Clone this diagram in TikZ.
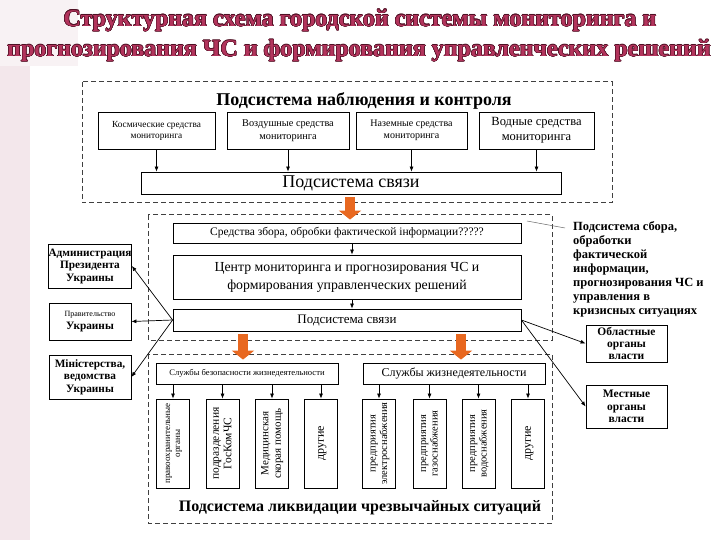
\documentclass[tikz,border=0pt]{standalone}
\usepackage{fontspec}
\setmainfont{Liberation Serif}
\usepackage{graphicx}
\usepackage{contour}
\usepackage{pgf, tikz}
\usetikzlibrary{arrows.meta}
\pgfdeclarelayer{edgelayer}
\pgfdeclarelayer{nodelayer}
\pgfsetlayers{edgelayer,nodelayer,main}
\definecolor{titlered}{RGB}{178,52,92}
\definecolor{titledark}{RGB}{80,16,36}
\definecolor{orangearr}{RGB}{232,104,32}
\definecolor{sidepink}{RGB}{243,231,235}
\contourlength{0.5pt}
\tikzstyle{box}=[draw=black, fill=white, line width=0.8pt, inner sep=1pt, align=center]
\tikzstyle{vbox}=[box, minimum width=33, minimum height=89]
\tikzstyle{sidebox}=[box, minimum width=82, inner sep=0pt, font=\bfseries\fontsize{11.3}{12.5}\selectfont]
\tikzstyle{frame}=[draw=black!75, line width=1pt, dash pattern=on 5pt off 3pt]
\tikzstyle{edge}=[draw=black, line width=0.7pt, -{Latex[length=5pt,width=4pt]}]
\tikzstyle{bigarrow}=[draw=orangearr, line width=10pt, -{Triangle[length=9pt,width=22pt]}, shorten <=3pt, shorten >=3pt]
\tikzstyle{titletext}=[text=titlered, font=\bfseries\fontsize{24}{28}\selectfont, inner sep=0pt]
\newcommand{\vtext}[1]{\rotatebox{90}{\begin{tabular}{@{}c@{}}#1\end{tabular}}}

\begin{document}
\begin{tikzpicture}[x=1pt, y=-1pt]
	\useasboundingbox (0, 0) rectangle (720, 540);
	\begin{pgfonlayer}{nodelayer}
		% title
		\node [style=titletext] (0) at (360, 21) {\contour{titledark}{Структурная схема городской системы мониторинга и}};
		\node [style=titletext] (1) at (359, 51) {\contour{titledark}{прогнозирования ЧС и формирования управленческих решений}};
		% observation subsystem
		\node [font=\bfseries\fontsize{18}{20}\selectfont] (2) at (364, 101) {Подсистема наблюдения и контроля};
		\node [style=box, minimum width=117, minimum height=37, font=\fontsize{9.3}{11}\selectfont] (3) at (156.5, 130.5) {Космические средства\\мониторинга};
		\node [style=box, minimum width=122, minimum height=37, font=\fontsize{10.3}{12.5}\selectfont] (4) at (288, 130.5) {Воздушные средства\\мониторинга};
		\node [style=box, minimum width=111, minimum height=37, font=\fontsize{10}{12}\selectfont] (5) at (411.5, 130.5) {Наземные средства\\мониторинга};
		\node [style=box, minimum width=115, minimum height=37, font=\fontsize{12.5}{15}\selectfont] (6) at (536.5, 130.5) {Водные средства\\мониторинга};
		\node [style=box, minimum width=420, minimum height=22, font=\fontsize{18}{20}\selectfont] (7) at (351, 183) {Подсистема связи};
		% collection subsystem
		\node [style=box, minimum width=348, minimum height=20, font=\fontsize{11.5}{13}\selectfont] (8) at (347, 233) {Средства збора, обробки фактической інформации?????};
		\node [style=box, minimum width=348, minimum height=44, font=\fontsize{13.8}{18}\selectfont] (9) at (347, 277) {Центр мониторинга и прогнозирования ЧС и\\формирования управленческих решений};
		\node [style=box, minimum width=348, minimum height=22, font=\fontsize{13}{15}\selectfont] (10) at (347, 320) {Подсистема связи};
		\node [style=sidebox, minimum height=44] (11) at (90, 266) {Администрация\\Президента\\Украины};
		\node [style=sidebox, minimum height=37] (12) at (90, 321.5) {{\mdseries\fontsize{8}{10}\selectfont Правительство}\\Украины};
		\node [style=sidebox, minimum height=44] (13) at (90, 377) {Міністерства,\\ведомства\\Украины};
		\node [style=sidebox, minimum width=81, minimum height=37, font=\bfseries\fontsize{11.5}{12}\selectfont] (14) at (626.5, 343.5) {Областные\\органы\\власти};
		\node [style=sidebox, minimum width=81, minimum height=43, font=\bfseries\fontsize{11.5}{12.5}\selectfont] (15) at (626.5, 406.5) {Местные\\органы\\власти};
		\node [anchor=north west, align=left, inner sep=0pt, font=\bfseries\fontsize{12.5}{14}\selectfont] (16) at (573, 221) {Подсистема сбора,\\обработки\\фактической\\информации,\\прогнозирования ЧС и\\управления в\\кризисных ситуациях};
		\coordinate (17) at (527, 221);
		% liquidation subsystem
		\node [style=box, minimum width=182, minimum height=21, font=\fontsize{8.6}{10}\selectfont] (18) at (247, 373.5) {Службы безопасности жизнедеятельности};
		\node [style=box, minimum width=182, minimum height=21, font=\fontsize{12}{13}\selectfont] (19) at (454, 373.5) {Службы жизнедеятельности};
		\node [style=vbox, font=\fontsize{9}{10}\selectfont] (20) at (173, 443.5) {\vtext{правоохранительные\\органы}};
		\node [style=vbox, font=\fontsize{11.5}{12.5}\selectfont] (21) at (222.5, 443.5) {\vtext{подразделения\\ГосКомЧС}};
		\node [style=vbox, font=\fontsize{11}{12.5}\selectfont] (22) at (272, 443.5) {\vtext{Медицинская\\скорая помощь}};
		\node [style=vbox, font=\fontsize{12}{14}\selectfont] (23) at (321, 443.5) {\vtext{другие}};
		\node [style=vbox, font=\fontsize{10.5}{11.5}\selectfont] (24) at (379, 443.5) {\vtext{предприятия\\электроснабжения}};
		\node [style=vbox, font=\fontsize{10.5}{11.5}\selectfont] (25) at (429.5, 443.5) {\vtext{предприятия\\газоснабжения}};
		\node [style=vbox, font=\fontsize{10.5}{11.5}\selectfont] (26) at (478.5, 443.5) {\vtext{предприятия\\водоснабжения}};
		\node [style=vbox, font=\fontsize{12}{14}\selectfont] (27) at (528, 443.5) {\vtext{другие}};
		\node [font=\bfseries\fontsize{16}{19}\selectfont] (28) at (360, 508) {Подсистема ликвидации чрезвычайных ситуаций};
	\end{pgfonlayer}
	\begin{pgfonlayer}{edgelayer}
		% background and frames
		\fill [sidepink] (0, 0) rectangle (30, 540);
		\fill [sidepink!55] (0, 0) rectangle (78, 66);
		\draw [style=frame] (82, 82) rectangle (612, 203);
		\draw [style=frame] (148, 215) rectangle (552, 340);
		\draw [style=frame] (148, 354) rectangle (552, 523);
		\draw [style=edge] (3) to (3 |- 7.north);
		\draw [style=edge] (4) to (4 |- 7.north);
		\draw [style=edge] (5) to (5 |- 7.north);
		\draw [style=edge] (6) to (6 |- 7.north);
		\draw [style=bigarrow] (7.south -| 350, 0) to (8.north -| 350, 0);
		\draw [style=edge] (8.south -| 352, 0) to (9.north -| 352, 0);
		\draw [style=edge] (9.south -| 352, 0) to (10.north -| 352, 0);
		\draw [style=edge] (10.west) to (11.east);
		\draw [style=edge] (10.west) to (12.east);
		\draw [style=edge] (10.west) to (13.east);
		\draw [style=edge] (10.east) to (14.west);
		\draw [style=edge] (10.east) to (15.west);
		\draw [draw=black!60, line width=0.5pt] (17) to ([shift={(-8, 7)}]16.north west);
		\draw [style=bigarrow] (10.south -| 243, 0) to (18.north -| 243, 0);
		\draw [style=bigarrow] (10.south -| 461, 0) to (19.north -| 461, 0);
		\draw [style=edge] (18.south -| 20) to (20);
		\draw [style=edge] (18.south -| 21) to (21);
		\draw [style=edge] (18.south -| 22) to (22);
		\draw [style=edge] (18.south -| 23) to (23);
		\draw [style=edge] (19.south -| 24) to (24);
		\draw [style=edge] (19.south -| 25) to (25);
		\draw [style=edge] (19.south -| 26) to (26);
		\draw [style=edge] (19.south -| 27) to (27);
	\end{pgfonlayer}
\end{tikzpicture}
\end{document}
